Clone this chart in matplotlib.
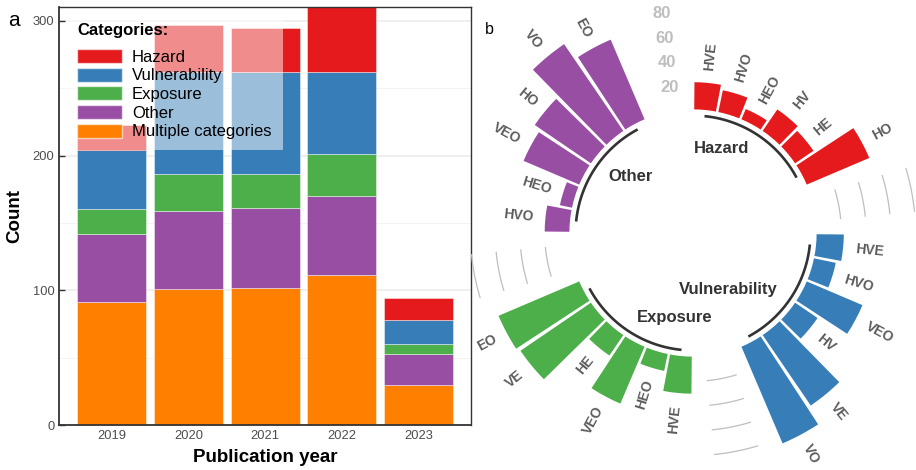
import numpy as np
import matplotlib.pyplot as plt
from matplotlib.patches import Patch

plt.rcParams['font.family'] = ['Liberation Sans', 'DejaVu Sans']

# panel a: publications per year, stacked by category
years = ['2019', '2020', '2021', '2022', '2023']
multiple = [91, 101, 102, 111, 30]
other = [51, 58, 59, 59, 23]
exposure = [18, 27, 25, 31, 7]
vulnerability = [44, 76, 76, 61, 18]
hazard = [19, 35, 33, 48, 16]

# panel b: combinations within each category
groups = ['Hazard', 'Vulnerability', 'Exposure', 'Other']
hazard_labels = ['HVE', 'HVO', 'HEO', 'HV', 'HE', 'HO']
hazard_counts = [22, 18, 9, 21, 18, 55]
vuln_labels = ['HVE', 'HVO', 'VEO', 'HV', 'VE', 'VO']
vuln_counts = [22, 18, 49, 22, 69, 85]
expo_labels = ['HVE', 'HEO', 'VEO', 'HE', 'VE', 'EO']
expo_counts = [30, 14, 50, 20, 69, 71]
other_labels = ['HVO', 'HEO', 'VEO', 'HO', 'VO', 'EO']
other_counts = [20, 10, 49, 55, 85, 70]

col = {'Hazard': '#E41A1C', 'Vulnerability': '#377EB8', 'Exposure': '#4DAF4A',
       'Other': '#984EA3', 'Multiple categories': '#FF7F00'}

W, H = 916, 470
fig = plt.figure(figsize=(W / 100, H / 100), dpi=100)

# ---------------- a ----------------
ax = fig.add_axes([59.3 / W, 45 / H, (471 - 59.3) / W, (425 - 7.3) / H])
x = np.arange(len(years))
bottom = np.zeros(len(years))
stack = [('Multiple categories', multiple), ('Other', other), ('Exposure', exposure),
         ('Vulnerability', vulnerability), ('Hazard', hazard)]
for name, vals in stack:
    ax.bar(x, vals, 0.9, bottom=bottom, color=col[name], edgecolor=(1, 1, 1, 0.5), linewidth=0.6)
    bottom += np.array(vals)

ax.set_xlim(-0.685, 4.685)
ax.set_ylim(0, 310)
ax.set_xticks(x)
ax.set_xticklabels(years)
ax.set_yticks([0, 100, 200, 300])
ax.set_yticks([50, 150, 250], minor=True)
ax.grid(axis='y', which='major', color='#EBEBEB', lw=1.1)
ax.grid(axis='y', which='minor', color='#F3F3F3', lw=0.7)
ax.set_axisbelow(True)
ax.tick_params(direction='in', length=4, width=1, color='#333333', labelsize=9.3,
               labelcolor='#4D4D4D', pad=3.5)
ax.tick_params(which='minor', length=0)
for s in ax.spines.values():
    s.set_color('#333333')
    s.set_linewidth(1.0)
ax.spines['left'].set_linewidth(1.3)
ax.spines['bottom'].set_linewidth(1.3)
ax.set_xlabel('Publication year', fontsize=13.5, fontweight='bold', labelpad=5)
ax.set_ylabel('Count', fontsize=13.5, fontweight='bold', labelpad=7)

handles = [Patch(facecolor=col[n], edgecolor=(1, 1, 1, 0.6), label=n)
           for n in ['Hazard', 'Vulnerability', 'Exposure', 'Other', 'Multiple categories']]
leg = ax.legend(handles=handles, title='Categories:', loc='upper left',
                bbox_to_anchor=((66 - 59.3) / 411.7, (425 - 12) / 417.7),
                frameon=True, fancybox=False, framealpha=0.5, facecolor='white',
                edgecolor='none', fontsize=12,
                title_fontproperties={'weight': 'bold', 'size': 12},
                handlelength=2.7, handleheight=0.9, labelspacing=0.18,
                handletextpad=0.6, borderpad=0.66, borderaxespad=0, alignment='left')
leg._legend_box.sep = 8

fig.text(14 / W, 1 - 20 / H, 'a', fontsize=15, ha='center', va='center')
fig.text(489 / W, 1 - 30 / H, 'b', fontsize=11.5, ha='center', va='center')

# ---------------- b ----------------
cx, cy = 693, H - 233
rmin, rmax = -100, 120
rpx = (rmax - rmin) * 1.236
axp = fig.add_axes([(cx - rpx) / W, (cy - rpx) / H, 2 * rpx / W, 2 * rpx / H],
                   projection='polar')
axp.set_theta_zero_location('N')
axp.set_theta_direction(-1)
axp.set_ylim(rmin, rmax)
axp.set_axis_off()

n_bar, empty_bar = 6, 2
n_slot = len(groups) * (n_bar + empty_bar)
step = 2 * np.pi / n_slot
group_data = [(hazard_labels, hazard_counts), (vuln_labels, vuln_counts),
              (expo_labels, expo_counts), (other_labels, other_counts)]

# grid arcs in the gaps between groups
for k in range(len(groups) - 1):
    t0 = (k * (n_bar + empty_bar) + n_bar + 0.5) * step
    t1 = t0 + (empty_bar - 1) * step
    th = np.linspace(t0, t1, 30)
    for v in [20, 40, 60, 80]:
        axp.plot(th, np.full_like(th, v), color='#BEBEBE', lw=0.9, zorder=1)

for k, (g, (labels, counts)) in enumerate(zip(groups, group_data)):
    slots = k * (n_bar + empty_bar) + np.arange(n_bar)
    theta = (slots + 0.5) * step
    axp.bar(theta, counts, width=0.9 * step, bottom=0, color=col[g], zorder=2)
    for t, lab, v in zip(theta, labels, counts):
        deg = np.rad2deg(t)
        if deg < 180:
            rot, ha = 90 - deg, 'left'
        else:
            rot, ha = 270 - deg, 'right'
        axp.text(t, v + 10, lab, rotation=rot, rotation_mode='anchor', ha=ha, va='center',
                 fontsize=10, fontweight='bold', color='#5C5C5C')
    th = np.linspace(theta[0], theta[-1], 60)
    axp.plot(th, np.full_like(th, -5), color='#333333', lw=1.9, solid_capstyle='butt')
    axp.text(theta.mean(), -18, g, ha='right' if k < 2 else 'left', va='center',
             fontsize=12, fontweight='bold', color='#333333')

t_lab = (n_slot - 0.5) * step
for v in [20, 40, 60, 80]:
    axp.text(t_lab, v - 1.5, str(v), ha='right', va='center', fontsize=12,
             fontweight='bold', color='#BEBEBE')

fig.savefig('out.png', dpi=100)
